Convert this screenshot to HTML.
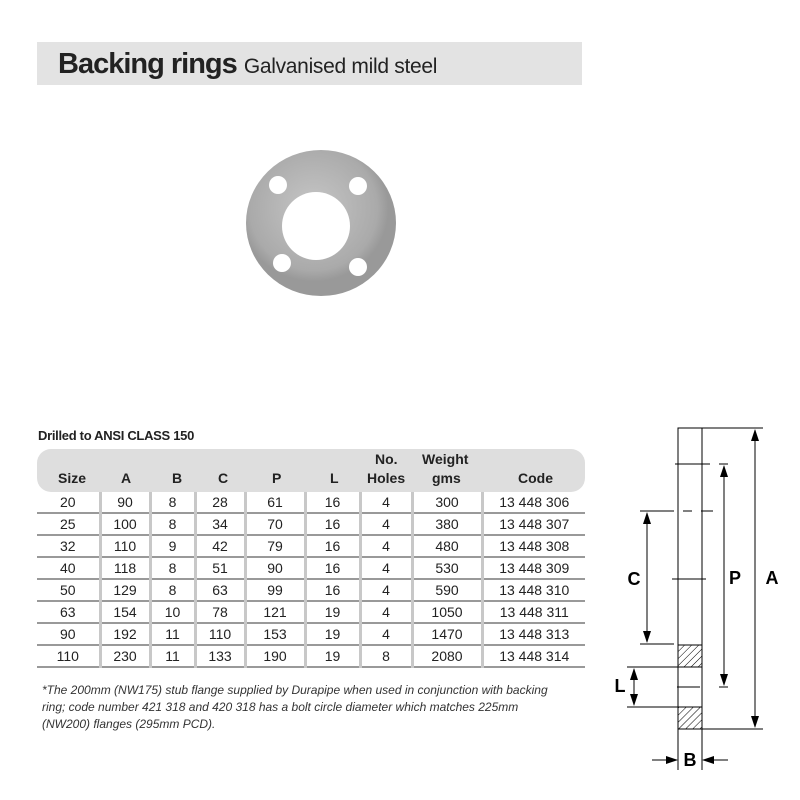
<!DOCTYPE html>
<html><head><meta charset="utf-8"><style>
body{margin:0;width:800px;height:800px;background:#fff;position:relative;font-family:"Liberation Sans",sans-serif;overflow:hidden}
.t{position:absolute;white-space:nowrap}
table{position:absolute;left:37px;top:449px;border-collapse:collapse;font-size:14px;color:#222}
td{height:20px;padding:0;text-align:center;border-left:3px solid #c8c8c8;border-bottom:2px solid #999;line-height:19px}
td:first-child{border-left:none}
</style></head><body>
<div style="position:absolute;left:37px;top:42px;width:545px;height:43px;background:#e3e3e3"></div>
<div class="t" style="left:58px;top:48px;font-size:29px;font-weight:bold;color:#222;letter-spacing:-1px">Backing rings <span style="font-size:21px;font-weight:normal;letter-spacing:-0.3px">Galvanised mild steel</span></div>
<svg width="800" height="800" style="position:absolute;left:0;top:0">
<defs><radialGradient id="g" cx="45%" cy="40%"><stop offset="0" stop-color="#c6c6c6"/><stop offset="0.85" stop-color="#aaa"/><stop offset="1" stop-color="#999"/></radialGradient>
<pattern id="h" width="5" height="5" patternUnits="userSpaceOnUse" patternTransform="rotate(45)"><line x1="0" y1="0" x2="0" y2="5" stroke="#000" stroke-width="1"/></pattern>
<marker id="ar" markerWidth="12" markerHeight="10" refX="11" refY="5" orient="auto-start-reverse" markerUnits="userSpaceOnUse"><path d="M0,1 L12,5 L0,9 Z" fill="#000"/></marker></defs>
<ellipse cx="321" cy="223" rx="75" ry="73" fill="url(#g)"/>
<circle cx="316" cy="226" r="34" fill="#fff"/>
<circle cx="278" cy="185" r="9" fill="#fff"/><circle cx="358" cy="186" r="9" fill="#fff"/>
<circle cx="282" cy="263" r="9" fill="#fff"/><circle cx="358" cy="267" r="9" fill="#fff"/>
<rect x="37" y="449" width="548" height="43" rx="14" fill="#dedede"/>
<g stroke="#000" stroke-width="1" fill="none">
<rect x="678" y="428" width="24" height="301"/>
<rect x="678" y="645" width="24" height="22" fill="url(#h)"/>
<rect x="678" y="707" width="24" height="22" fill="url(#h)"/>
<line x1="702" y1="428" x2="763" y2="428"/><line x1="702" y1="729" x2="763" y2="729"/>
<line x1="755" y1="430" x2="755" y2="727" marker-start="url(#ar)" marker-end="url(#ar)"/>
<line x1="675" y1="464" x2="710" y2="464"/><line x1="719" y1="464" x2="728" y2="464"/>
<line x1="677" y1="687" x2="700" y2="687"/><line x1="719" y1="687" x2="728" y2="687"/>
<line x1="724" y1="466" x2="724" y2="685" marker-start="url(#ar)" marker-end="url(#ar)"/>
<line x1="640" y1="511" x2="674" y2="511"/><line x1="683" y1="511" x2="692" y2="511"/><line x1="701" y1="511" x2="713" y2="511"/>
<line x1="672" y1="579" x2="706" y2="579"/>
<line x1="640" y1="644" x2="674" y2="644"/>
<line x1="647" y1="513" x2="647" y2="642" marker-start="url(#ar)" marker-end="url(#ar)"/>
<line x1="627" y1="667" x2="678" y2="667"/><line x1="627" y1="707" x2="678" y2="707"/>
<line x1="634" y1="669" x2="634" y2="705" marker-start="url(#ar)" marker-end="url(#ar)"/>
<line x1="678" y1="729" x2="678" y2="770"/><line x1="702" y1="729" x2="702" y2="770"/>
<line x1="652" y1="760" x2="677" y2="760" marker-end="url(#ar)"/><line x1="728" y1="760" x2="703" y2="760" marker-end="url(#ar)"/>
</g>
<g font-family="Liberation Sans,sans-serif" font-weight="bold" font-size="18" fill="#000" text-anchor="middle">
<text x="634" y="585">C</text><text x="735" y="584">P</text><text x="772" y="584">A</text><text x="620" y="692">L</text><text x="690" y="766">B</text></g>
</svg>
<div class="t" style="left:38px;top:428px;font-size:13px;font-weight:bold;color:#222;letter-spacing:-0.3px">Drilled to ANSI CLASS 150</div>
<div class="t" style="left:0;top:450px;font-size:14px;font-weight:bold;color:#222;width:800px;height:40px">
<span class="t" style="left:58px;top:20px">Size</span><span class="t" style="left:121px;top:20px">A</span><span class="t" style="left:172px;top:20px">B</span><span class="t" style="left:218px;top:20px">C</span><span class="t" style="left:272px;top:20px">P</span><span class="t" style="left:330px;top:20px">L</span>
<span class="t" style="left:375px;top:1px">No.</span><span class="t" style="left:367px;top:20px">Holes</span><span class="t" style="left:422px;top:1px">Weight</span><span class="t" style="left:432px;top:20px">gms</span><span class="t" style="left:518px;top:20px">Code</span></div>
<table style="top:492px;width:548px">
<colgroup><col style="width:63px"><col style="width:50px"><col style="width:45px"><col style="width:50px"><col style="width:60px"><col style="width:55px"><col style="width:52px"><col style="width:70px"><col></colgroup>
<tr><td>20</td><td>90</td><td>8</td><td>28</td><td>61</td><td>16</td><td>4</td><td>300</td><td>13 448 306</td></tr>
<tr><td>25</td><td>100</td><td>8</td><td>34</td><td>70</td><td>16</td><td>4</td><td>380</td><td>13 448 307</td></tr>
<tr><td>32</td><td>110</td><td>9</td><td>42</td><td>79</td><td>16</td><td>4</td><td>480</td><td>13 448 308</td></tr>
<tr><td>40</td><td>118</td><td>8</td><td>51</td><td>90</td><td>16</td><td>4</td><td>530</td><td>13 448 309</td></tr>
<tr><td>50</td><td>129</td><td>8</td><td>63</td><td>99</td><td>16</td><td>4</td><td>590</td><td>13 448 310</td></tr>
<tr><td>63</td><td>154</td><td>10</td><td>78</td><td>121</td><td>19</td><td>4</td><td>1050</td><td>13 448 311</td></tr>
<tr><td>90</td><td>192</td><td>11</td><td>110</td><td>153</td><td>19</td><td>4</td><td>1470</td><td>13 448 313</td></tr>
<tr><td>110</td><td>230</td><td>11</td><td>133</td><td>190</td><td>19</td><td>8</td><td>2080</td><td>13 448 314</td></tr>
</table>
<div class="t" style="left:42px;top:682px;font-size:12px;font-style:italic;color:#333;line-height:17px;white-space:normal;width:530px">*The 200mm (NW175) stub flange supplied by Durapipe when used in conjunction with backing<br>ring; code number 421 318 and 420 318 has a bolt circle diameter which matches 225mm<br>(NW200) flanges (295mm PCD).</div>
</body></html>
